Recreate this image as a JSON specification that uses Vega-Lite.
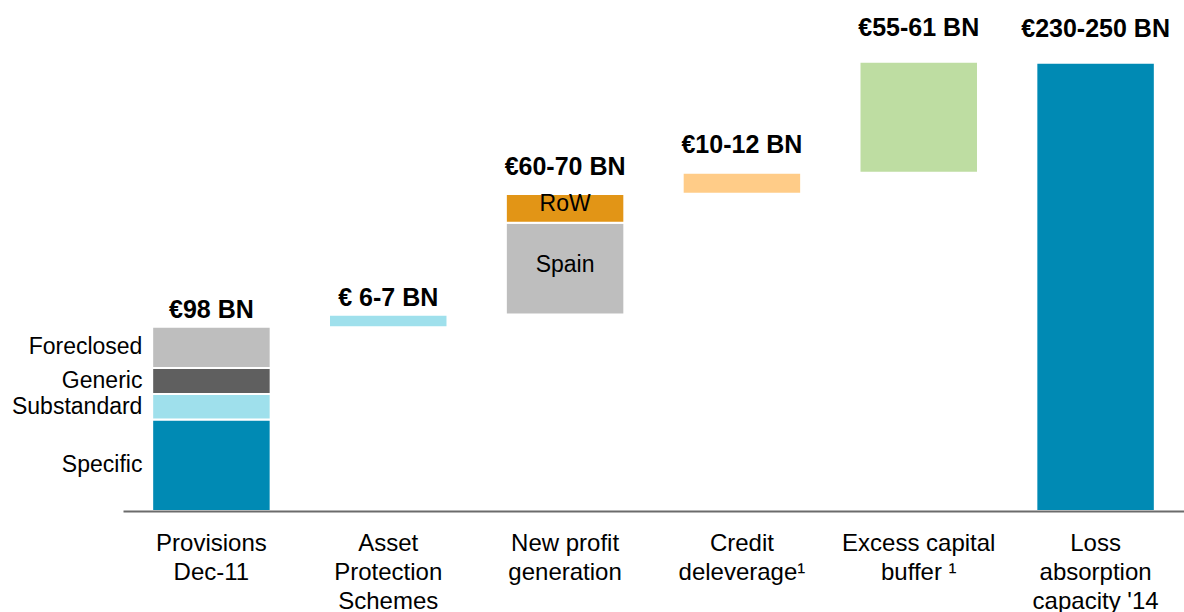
{
  "$schema": "https://vega.github.io/schema/vega-lite/v6.json",
  "width": 1061,
  "height": 511,
  "autosize": {"type": "none"},
  "padding": {"left": 123, "top": 0, "right": 0, "bottom": 101},
  "background": "white",
  "config": {"view": {"stroke": null}, "font": "Liberation Sans"},
  "datasets": {
    "segs": [
      {"cat": "Provisions|Dec-11", "part": "Specific", "start": 0, "end": 48.9},
      {"cat": "Provisions|Dec-11", "part": "Substandard", "start": 48.9, "end": 62.5},
      {"cat": "Provisions|Dec-11", "part": "Generic", "start": 62.5, "end": 76.4},
      {"cat": "Provisions|Dec-11", "part": "Foreclosed", "start": 76.4, "end": 98.4},
      {"cat": "Asset|Protection|Schemes", "part": "Asset Protection", "start": 98.2, "end": 104.8},
      {"cat": "New profit|generation", "part": "Spain", "start": 105.0, "end": 154.0},
      {"cat": "New profit|generation", "part": "RoW", "start": 154.0, "end": 169.3},
      {"cat": "Credit|deleverage¹", "part": "Credit deleverage", "start": 169.5, "end": 180.7},
      {"cat": "Excess capital|buffer ¹", "part": "Excess capital", "start": 180.7, "end": 240.0},
      {"cat": "Loss|absorption|capacity '14", "part": "Loss absorption", "start": 0, "end": 239.5}
    ],
    "totals": [
      {"cat": "Provisions|Dec-11", "label": "€98 BN", "top": 98.4},
      {"cat": "Asset|Protection|Schemes", "label": "€ 6-7 BN", "top": 104.8},
      {"cat": "New profit|generation", "label": "€60-70 BN", "top": 169.3},
      {"cat": "Credit|deleverage¹", "label": "€10-12 BN", "top": 180.7},
      {"cat": "Excess capital|buffer ¹", "label": "€55-61 BN", "top": 240.0},
      {"cat": "Loss|absorption|capacity '14", "label": "€230-250 BN", "top": 239.5}
    ]
  },
  "encoding": {
    "x": {
      "field": "cat",
      "type": "nominal",
      "sort": null,
      "scale": {
        "domain": ["Provisions|Dec-11", "Asset|Protection|Schemes", "New profit|generation", "Credit|deleverage¹", "Excess capital|buffer ¹", "Loss|absorption|capacity '14"],
        "paddingInner": 0.33,
        "paddingOuter": 0.165
      },
      "axis": {
        "title": null,
        "labelAngle": 0,
        "ticks": false,
        "tickSize": 0,
        "labelExpr": "split(datum.label, '|')",
        "labelFont": "Liberation Sans",
        "labelFontSize": 24,
        "labelColor": "#000000",
        "labelLineHeight": 29,
        "labelPadding": 20,
        "labelBaseline": "top",
        "labelLimit": 300,
        "domainColor": "#6b6b6b",
        "domainWidth": 2,
        "grid": false,
        "zindex": 1
      }
    }
  },
  "layer": [
    {
      "data": {"name": "segs"},
      "mark": {"type": "bar", "stroke": "white", "strokeWidth": 2},
      "encoding": {
        "y": {"field": "start", "type": "quantitative", "scale": {"domain": [0, 273], "nice": false, "zero": true}, "axis": null},
        "y2": {"field": "end"},
        "color": {
          "field": "part",
          "type": "nominal",
          "legend": null,
          "scale": {
            "domain": ["Specific", "Substandard", "Generic", "Foreclosed", "Asset Protection", "Spain", "RoW", "Credit deleverage", "Excess capital", "Loss absorption"],
            "range": ["#008ab4", "#9fe0ec", "#5f5f5f", "#bebebe", "#9fe0ec", "#bebebe", "#e29516", "#ffcc88", "#bedda2", "#008ab4"]
          }
        }
      }
    },
    {
      "data": {"name": "segs"},
      "transform": [
        {"filter": "datum.cat == 'Provisions|Dec-11'"},
        {"calculate": "(datum.start + datum.end) / 2", "as": "mid"}
      ],
      "mark": {"type": "text", "align": "right", "baseline": "middle", "dx": -69, "fontSize": 23, "color": "#000000"},
      "encoding": {
        "y": {"field": "mid", "type": "quantitative"},
        "text": {"field": "part"}
      }
    },
    {
      "data": {"name": "segs"},
      "transform": [
        {"filter": "datum.cat == 'New profit|generation'"},
        {"calculate": "(datum.start + datum.end) / 2", "as": "mid"}
      ],
      "mark": {"type": "text", "align": "center", "baseline": "middle", "dy": -4, "fontSize": 23, "color": "#000000"},
      "encoding": {
        "y": {"field": "mid", "type": "quantitative"},
        "text": {"field": "part"}
      }
    },
    {
      "data": {"name": "totals"},
      "transform": [{"filter": "datum.cat == 'Provisions|Dec-11' || datum.cat == 'Asset|Protection|Schemes'"}],
      "mark": {"type": "text", "align": "center", "baseline": "alphabetic", "dy": -9, "fontSize": 25, "fontWeight": "bold", "color": "#000000"},
      "encoding": {
        "y": {"field": "top", "type": "quantitative"},
        "text": {"field": "label"}
      }
    },
    {
      "data": {"name": "totals"},
      "transform": [{"filter": "datum.cat == 'New profit|generation' || datum.cat == 'Credit|deleverage¹'"}],
      "mark": {"type": "text", "align": "center", "baseline": "alphabetic", "dy": -19.5, "fontSize": 25, "fontWeight": "bold", "color": "#000000"},
      "encoding": {
        "y": {"field": "top", "type": "quantitative"},
        "text": {"field": "label"}
      }
    },
    {
      "data": {"name": "totals"},
      "transform": [{"filter": "datum.cat == 'Excess capital|buffer ¹' || indexof(datum.cat, 'Loss') == 0"}],
      "mark": {"type": "text", "align": "center", "baseline": "alphabetic", "dy": -25.5, "fontSize": 25, "fontWeight": "bold", "color": "#000000"},
      "encoding": {
        "y": {"field": "top", "type": "quantitative"},
        "text": {"field": "label"}
      }
    }
  ]
}
